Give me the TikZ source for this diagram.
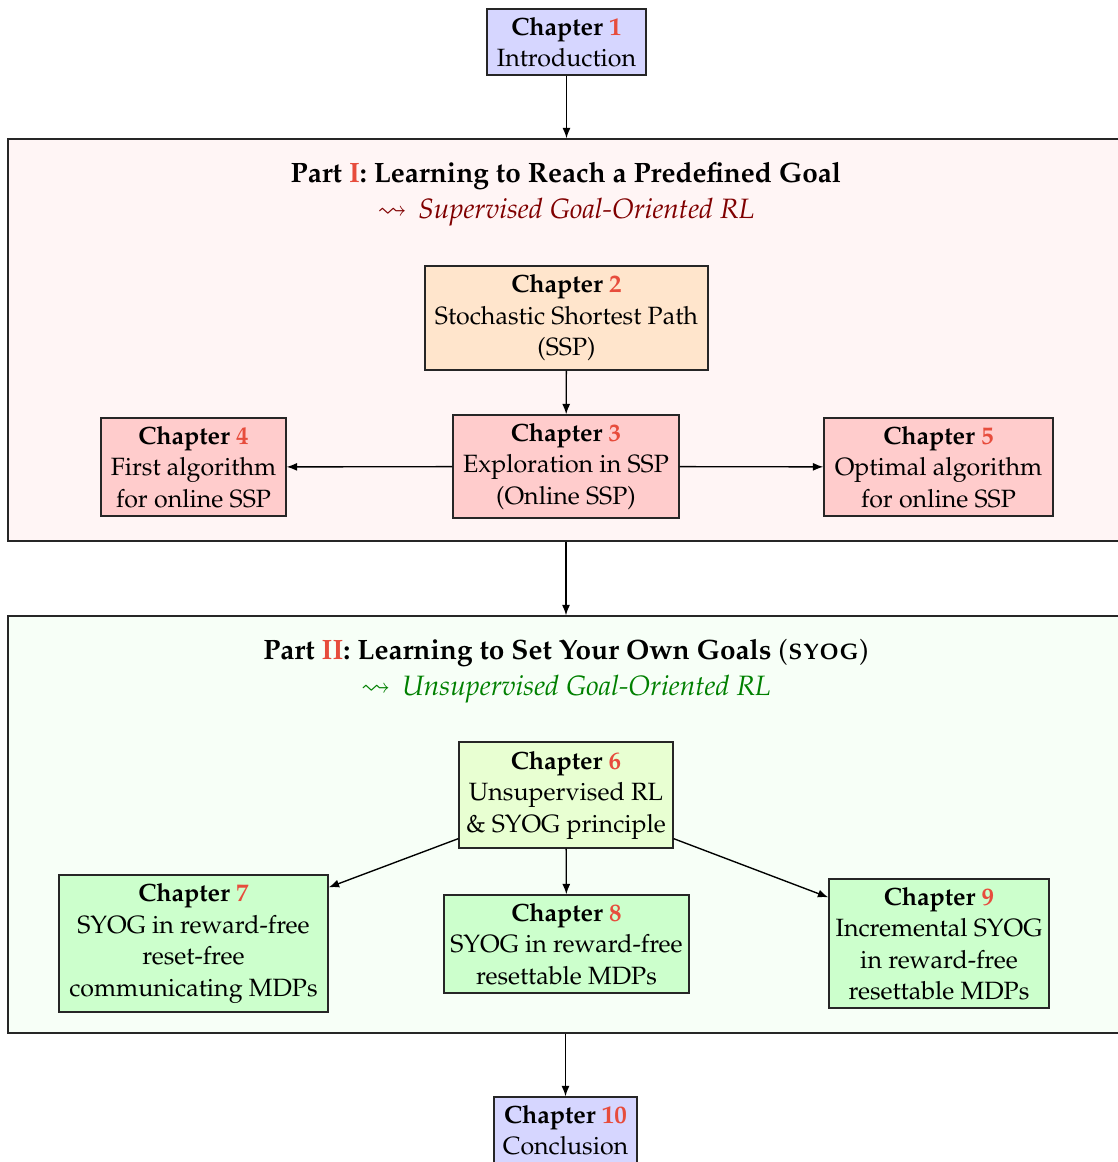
\documentclass[tikz,border=0pt]{standalone}
\usepackage[T1]{fontenc}
\usepackage{mathpazo}
\usepackage{amssymb}
\usetikzlibrary{arrows.meta}
\definecolor{chred}{RGB}{231,76,60}
\definecolor{sixfill}{RGB}{232,255,210}
\newcommand{\chn}[1]{\textcolor{chred}{#1}}
\begin{document}
\begin{tikzpicture}[x=0.4pt,y=-0.4pt,
  chbox/.style={draw=black!85, line width=0.5pt, align=center, inner sep=0pt,
    font=\fontsize{10}{12.6}\selectfont},
  partbox/.style={draw=black!85, line width=0.5pt, inner sep=0pt},
  arr/.style={-{Latex[length=4.2pt,width=3.2pt]}, line width=0.55pt},
  ptitle/.style={font=\fontsize{11.2}{14}\selectfont\bfseries, inner sep=0pt},
  psub/.style={font=\fontsize{11.2}{14}\selectfont\itshape, inner sep=0pt}]
\useasboundingbox (0,0) rectangle (1118,1162);
\clip (0,0) rectangle (1118,1162);
% parts
\node[partbox, fill=red!4, minimum width=1117*0.4pt, minimum height=402*0.4pt] (p1) at (566.5,340) {};
\node[partbox, fill=green!3, minimum width=1117*0.4pt, minimum height=417*0.4pt] (p2) at (566.5,824.5) {};
\node[ptitle] (t1) at (566,176) {Part \chn{I}: Learning to Reach a Predefined Goal};
\node[psub, text=red!50!black] (s1) at (566,212) {$\rightsquigarrow$\ \,Supervised Goal-Oriented RL};
\node[ptitle] (t2) at (566,653) {Part \chn{II}: Learning to Set Your Own Goals \textnormal{(}\textsc{syog}\textnormal{)}};
\node[psub, text=green!50!black] (s2) at (566,689) {$\rightsquigarrow$\ \,Unsupervised Goal-Oriented RL};
% chapters
\node[chbox, fill=blue!16, minimum width=159*0.4pt, minimum height=66*0.4pt] (c1) at (566.5,42) {\textbf{Chapter \chn{1}}\\Introduction};
\node[chbox, fill=orange!20, minimum width=283*0.4pt, minimum height=104*0.4pt] (c2) at (566.5,318) {\textbf{Chapter \chn{2}}\\Stochastic Shortest Path\\(SSP)};
\node[chbox, fill=red!20, minimum width=226*0.4pt, minimum height=103*0.4pt] (c3) at (566,466.5) {\textbf{Chapter \chn{3}}\\Exploration in SSP\\(Online SSP)};
\node[chbox, fill=red!20, minimum width=185*0.4pt, minimum height=98*0.4pt] (c4) at (193.5,467) {\textbf{Chapter \chn{4}}\\First algorithm\\for online SSP};
\node[chbox, fill=red!20, minimum width=229*0.4pt, minimum height=98*0.4pt] (c5) at (938.5,467) {\textbf{Chapter \chn{5}}\\Optimal algorithm\\for online SSP};
\node[chbox, fill=sixfill, minimum width=214*0.4pt, minimum height=106*0.4pt] (c6) at (566,795) {\textbf{Chapter \chn{6}}\\Unsupervised RL\\\& SYOG principle};
\node[chbox, fill=green!20, minimum width=269*0.4pt, minimum height=137*0.4pt] (c7) at (193.5,943.5) {\textbf{Chapter \chn{7}}\\SYOG in reward-free\\reset-free\\communicating MDPs};
\node[chbox, fill=green!20, minimum width=245*0.4pt, minimum height=98*0.4pt] (c8) at (566.5,944) {\textbf{Chapter \chn{8}}\\SYOG in reward-free\\resettable MDPs};
\node[chbox, fill=green!20, minimum width=220*0.4pt, minimum height=129*0.4pt] (c9) at (939,943.5) {\textbf{Chapter \chn{9}}\\Incremental SYOG\\in reward-free\\resettable MDPs};
\node[chbox, fill=blue!16, minimum width=143*0.4pt, minimum height=66*0.4pt] (c10) at (565.5,1130) {\textbf{Chapter \chn{10}}\\Conclusion};
% arrows
\draw[arr] (c1.south) -- (p1.north -| c1.south);
\draw[arr] (c2) -- (c3);
\draw[arr] (c3) -- (c4);
\draw[arr] (c3) -- (c5);
\draw[arr] (p1.south -| c3.south) -- (p2.north -| c3.south);
\draw[arr] ([yshift=4pt]c6.south west) -- ([yshift=-5.2pt]c7.north east);
\draw[arr] (c6) -- (c8);
\draw[arr] ([yshift=4pt]c6.south east) -- ([yshift=-7.6pt]c9.north west);
\draw[arr] (p2.south -| c10.north) -- (c10.north);
\end{tikzpicture}
\end{document}
